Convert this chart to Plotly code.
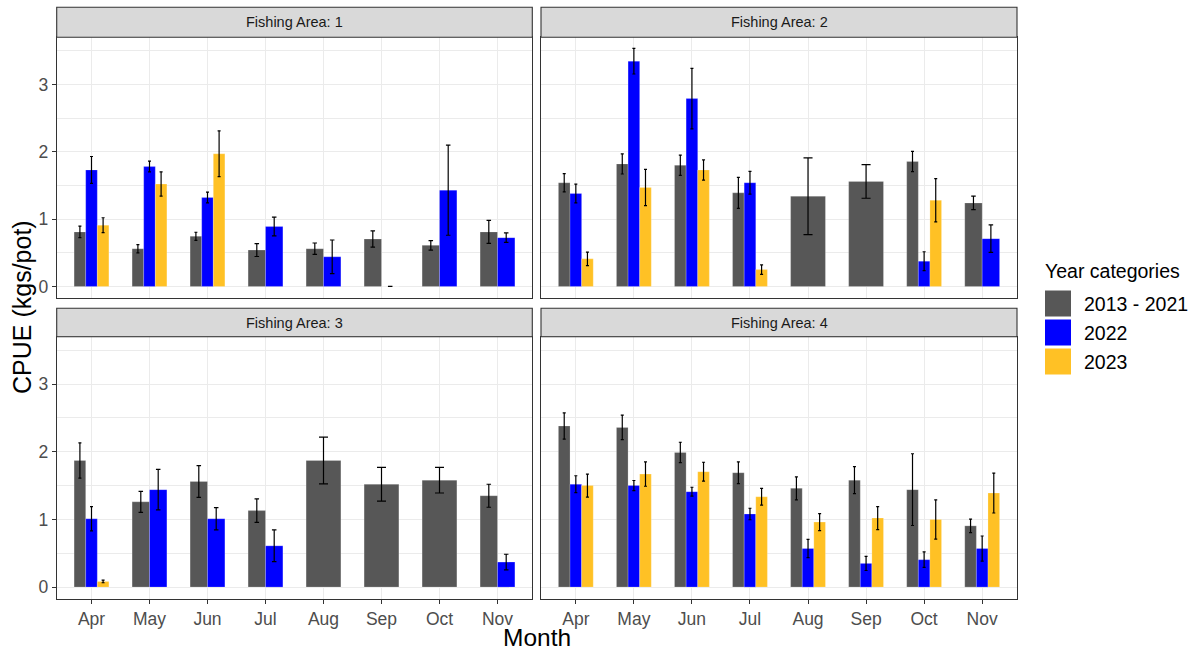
import plotly.graph_objects as go

# ---------------- data ----------------
months = ["Apr", "May", "Jun", "Jul", "Aug", "Sep", "Oct", "Nov"]
categories = ["2013 - 2021", "2022", "2023"]
colors = ["#575757", "#0000FF", "#FFC125"]
areas = ["Fishing Area: 1", "Fishing Area: 2", "Fishing Area: 3", "Fishing Area: 4"]
y_ticks = [0, 1, 2, 3]

N = None
area1_2013_2021 = [0.81, 0.56, 0.745, 0.54, 0.56, 0.705, 0.61, 0.81]
area1_2013_2021_se = [0.085, 0.06, 0.06, 0.095, 0.085, 0.12, 0.07, 0.17]
area1_2022 = [1.73, 1.78, 1.32, 0.89, 0.44, 0.0, 1.43, 0.725]
area1_2022_se = [0.2, 0.08, 0.08, 0.14, 0.25, 0.0, 0.67, 0.07]
area1_2023 = [0.91, 1.52, 1.97, N, N, N, N, N]
area1_2023_se = [0.11, 0.18, 0.34, N, N, N, N, N]

area2_2013_2021 = [1.54, 1.82, 1.80, 1.39, 1.34, 1.56, 1.855, 1.24]
area2_2013_2021_se = [0.135, 0.15, 0.15, 0.23, 0.57, 0.25, 0.15, 0.10]
area2_2022 = [1.38, 3.345, 2.79, 1.54, N, N, 0.375, 0.71]
area2_2022_se = [0.14, 0.19, 0.45, 0.17, N, N, 0.14, 0.205]
area2_2023 = [0.41, 1.47, 1.73, 0.25, N, N, 1.28, N]
area2_2023_se = [0.10, 0.27, 0.15, 0.07, N, N, 0.32, N]

area3_2013_2021 = [1.87, 1.26, 1.56, 1.13, 1.87, 1.52, 1.58, 1.35]
area3_2013_2021_se = [0.26, 0.155, 0.235, 0.175, 0.345, 0.25, 0.19, 0.17]
area3_2022 = [1.01, 1.44, 1.01, 0.61, N, N, N, 0.37]
area3_2022_se = [0.18, 0.30, 0.165, 0.235, N, N, N, 0.115]
area3_2023 = [0.084, N, N, N, N, N, N, N]
area3_2023_se = [0.02, N, N, N, N, N, N, N]

area4_2013_2021 = [2.38, 2.36, 1.99, 1.69, 1.46, 1.58, 1.44, 0.905]
area4_2013_2021_se = [0.195, 0.18, 0.15, 0.16, 0.17, 0.20, 0.53, 0.10]
area4_2022 = [1.52, 1.50, 1.41, 1.08, 0.57, 0.35, 0.405, 0.57]
area4_2022_se = [0.125, 0.075, 0.065, 0.085, 0.135, 0.105, 0.115, 0.185]
area4_2023 = [1.50, 1.67, 1.705, 1.335, 0.96, 1.02, 1.00, 1.39]
area4_2023_se = [0.17, 0.18, 0.14, 0.125, 0.125, 0.17, 0.29, 0.295]

values = [
    [area1_2013_2021, area1_2022, area1_2023],
    [area2_2013_2021, area2_2022, area2_2023],
    [area3_2013_2021, area3_2022, area3_2023],
    [area4_2013_2021, area4_2022, area4_2023],
]
errors = [
    [area1_2013_2021_se, area1_2022_se, area1_2023_se],
    [area2_2013_2021_se, area2_2022_se, area2_2023_se],
    [area3_2013_2021_se, area3_2022_se, area3_2023_se],
    [area4_2013_2021_se, area4_2022_se, area4_2023_se],
]

# ---------------- layout geometry ----------------
W, H = 1195, 655
FONT = "Arial, Liberation Sans, sans-serif"
col_px = [(56.7, 532.3), (541.0, 1017.0)]
row_px = [(37.3, 298.3), (336.7, 599.0)]
strip_px = [(7.3, 37.3), (308.3, 336.7)]
DODGE = 0.6
Y_RANGE = [-0.176, 3.70]
X_RANGE = [0.4, 8.6]

fig = go.Figure()
month_px = (col_px[0][1] - col_px[0][0]) / (X_RANGE[1] - X_RANGE[0])

for p in range(4):
    r, c = divmod(p, 2)
    ax = "" if p == 0 else str(p + 1)
    xref, yref = "x" + ax, "y" + ax
    # dodge positions
    pos = {}
    for m in range(len(months)):
        present = [k for k in range(3) if values[p][k][m] is not None]
        n = len(present)
        w = DODGE / n
        for j, k in enumerate(present):
            pos[(k, m)] = (m + 1 - DODGE / 2 + w * (j + 0.5), w)
    for k in range(3):
        xs, ys, ws = [], [], []
        groups = {}
        for m in range(len(months)):
            v = values[p][k][m]
            if v is None:
                continue
            x, w = pos[(k, m)]
            xs.append(x); ys.append(v); ws.append(w)
            groups.setdefault(round(w, 4), []).append((x, v, errors[p][k][m]))
        fig.add_trace(go.Bar(
            x=xs, y=ys, width=ws, marker=dict(color=colors[k], line=dict(width=0.6, color="rgba(255,255,255,0.35)")),
            xaxis=xref, yaxis=yref, showlegend=False, name=categories[k],
            hovertemplate=categories[k] + ": %{y}<extra></extra>",
        ))
        for w, items in groups.items():
            fig.add_trace(go.Scatter(
                x=[it[0] for it in items], y=[it[1] for it in items], mode="markers",
                marker=dict(size=1, opacity=0), xaxis=xref, yaxis=yref, showlegend=False,
                hoverinfo="skip",
                error_y=dict(type="data", array=[it[2] for it in items], visible=True,
                             color="black", thickness=1.2,
                             width=max(1.5, 0.13 * w * month_px)),
            ))

    xd = [col_px[c][0] / W, col_px[c][1] / W]
    yd = [1 - row_px[r][1] / H, 1 - row_px[r][0] / H]
    fig.layout["xaxis" + ax] = dict(
        domain=xd, range=X_RANGE, anchor=yref, tickmode="array",
        tickvals=list(range(1, len(months) + 1)), ticktext=months,
        showticklabels=(r == 1), ticks="outside" if r == 1 else "", ticklen=4,
        tickcolor="#333333", tickwidth=1,
        tickfont=dict(family=FONT, size=17.5, color="#4D4D4D"),
        showgrid=True, gridcolor="#EBEBEB", gridwidth=1.1, zeroline=False,
        showline=True, mirror=True, linecolor="#333333", linewidth=1.1,
    )
    fig.layout["yaxis" + ax] = dict(
        domain=yd, range=Y_RANGE, anchor=xref, tickmode="array", tickvals=y_ticks,
        showticklabels=(c == 0), ticks="outside" if c == 0 else "", ticklen=4,
        tickcolor="#333333", tickwidth=1,
        tickfont=dict(family=FONT, size=17.5, color="#4D4D4D"),
        showgrid=True, gridcolor="#EBEBEB", gridwidth=1.1, zeroline=False,
        minor=dict(tickmode="linear", tick0=0.5, dtick=1, showgrid=True,
                   gridcolor="#EBEBEB", gridwidth=0.55, ticks=""),
        showline=True, mirror=True, linecolor="#333333", linewidth=1.1,
    )
    # strip
    fig.add_shape(type="rect", xref="paper", yref="paper",
                  x0=xd[0], x1=xd[1], y0=1 - strip_px[r][1] / H, y1=1 - strip_px[r][0] / H,
                  fillcolor="#D9D9D9", line=dict(color="#333333", width=1.1), layer="above")
    fig.add_annotation(xref="paper", yref="paper", x=(xd[0] + xd[1]) / 2,
                       y=1 - (strip_px[r][0] + strip_px[r][1]) / 2 / H,
                       text=areas[p], showarrow=False,
                       font=dict(family=FONT, size=14.5, color="#1A1A1A"),
                       xanchor="center", yanchor="middle")

# axis titles
fig.add_annotation(xref="paper", yref="paper", x=(col_px[0][0] + col_px[1][1]) / 2 / W,
                   y=1 - 637 / H, text="Month", showarrow=False,
                   font=dict(family=FONT, size=24.5, color="black"),
                   xanchor="center", yanchor="middle")
fig.add_annotation(xref="paper", yref="paper", x=22.5 / W,
                   y=1 - 307.5 / H, text="CPUE (kgs/pot)",
                   showarrow=False, textangle=-90,
                   font=dict(family=FONT, size=25, color="black"),
                   xanchor="center", yanchor="middle")

# legend (drawn from categories/colors)
fig.add_annotation(xref="paper", yref="paper", x=1042.5 / W, y=1 - 271 / H,
                   text="Year categories", showarrow=False,
                   font=dict(family=FONT, size=19.5, color="black"),
                   xanchor="left", yanchor="middle")
for k, cat in enumerate(categories):
    top = 290 + 29 * k
    fig.add_shape(type="rect", xref="paper", yref="paper",
                  x0=1044.5 / W, x1=1071.5 / W, y0=1 - (top + 27) / H, y1=1 - top / H,
                  fillcolor=colors[k], line=dict(color="white", width=1))
    fig.add_annotation(xref="paper", yref="paper", x=1082 / W, y=1 - (top + 13.5) / H,
                       text=cat, showarrow=False,
                       font=dict(family=FONT, size=19.5, color="black"),
                       xanchor="left", yanchor="middle")

fig.update_layout(
    width=W, height=H, margin=dict(l=0, r=0, t=0, b=0),
    paper_bgcolor="white", plot_bgcolor="white",
    barmode="overlay", showlegend=False,
    font=dict(family=FONT),
)

fig.write_html(
    "out.html",
    config={"displayModeBar": False},
    post_script="document.body.style.margin='0';document.body.style.overflow='hidden';",
)
